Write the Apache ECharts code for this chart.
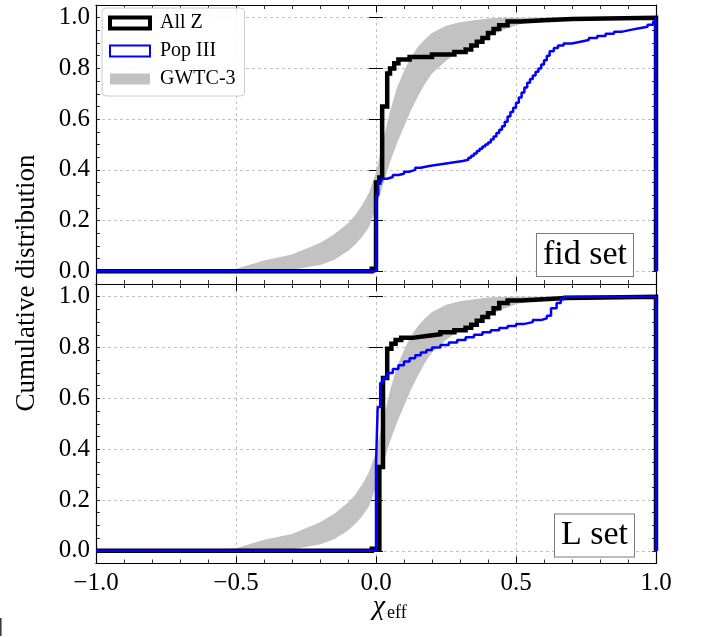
<!DOCTYPE html>
<html>
<head>
<meta charset="utf-8">
<script src="https://cdn.jsdelivr.net/npm/echarts@6/dist/echarts.min.js"></script>
<style>
  html, body { margin: 0; padding: 0; background: #ffffff; }
  #chart { width: 703px; height: 637px; }
</style>
</head>
<body>
<div id="chart"></div>
<script>
// ---- tick values ----
const xTicks = [-1.0, -0.5, 0.0, 0.5, 1.0];
const yTicks = [0.0, 0.2, 0.4, 0.6, 0.8, 1.0];

// ---- GWTC-3 credible band (lower / upper CDF) ----
const gwtcX    = [-0.6, -0.5, -0.4, -0.3, -0.2, -0.15, -0.1, -0.075, -0.05, -0.025, 0.0, 0.025, 0.05, 0.075, 0.1, 0.125, 0.15, 0.175, 0.2, 0.25, 0.3, 0.35, 0.4, 0.45, 0.5, 0.55, 0.6, 0.7];
const gwtcHigh = [0.0, 0.01, 0.043, 0.066, 0.112, 0.145, 0.19, 0.22, 0.26, 0.31, 0.39, 0.515, 0.63, 0.725, 0.79, 0.845, 0.885, 0.915, 0.94, 0.968, 0.982, 0.99, 0.997, 1.0, 1.0, 1.0, 1.0, 1.0];
const gwtcLow  = [0.0, 0.0, 0.0, 0.006, 0.025, 0.045, 0.08, 0.105, 0.135, 0.175, 0.25, 0.34, 0.43, 0.505, 0.57, 0.635, 0.69, 0.74, 0.78, 0.83, 0.87, 0.9, 0.925, 0.95, 0.97, 0.985, 0.995, 1.0];

// ---- fid set: cumulative step curves, [chi_eff, CDF] ----
const fidAllZ = [
  [-1.0, 0.0], [-0.015, 0.01], [0.0, 0.35], [0.012, 0.37], [0.022, 0.65], [0.04, 0.78],
  [0.05, 0.80], [0.065, 0.82], [0.08, 0.835], [0.12, 0.845], [0.2, 0.855], [0.28, 0.865],
  [0.32, 0.875], [0.34, 0.89], [0.36, 0.905], [0.38, 0.92], [0.40, 0.94], [0.42, 0.955],
  [0.44, 0.97], [0.47, 0.985], [0.52, 0.99], [0.6, 0.995], [0.7, 1.0], [1.0, 0.0]
];
const fidPop3 = [
  [-1.0, 0.0], [0.0, 0.30], [0.008, 0.355], [0.02, 0.365], [0.04, 0.372], [0.06, 0.38],
  [0.08, 0.385], [0.10, 0.393], [0.12, 0.40], [0.14, 0.408], [0.16, 0.415], [0.19, 0.42],
  [0.22, 0.425], [0.25, 0.43], [0.28, 0.435], [0.31, 0.44], [0.33, 0.448], [0.34, 0.456],
  [0.35, 0.465], [0.36, 0.474], [0.37, 0.483], [0.38, 0.492], [0.39, 0.50], [0.40, 0.508],
  [0.41, 0.52], [0.42, 0.532], [0.43, 0.545], [0.44, 0.558], [0.45, 0.572], [0.46, 0.59],
  [0.47, 0.61], [0.48, 0.628], [0.49, 0.645], [0.50, 0.665], [0.51, 0.685], [0.52, 0.705],
  [0.53, 0.725], [0.54, 0.743], [0.55, 0.758], [0.56, 0.772], [0.57, 0.787], [0.58, 0.80],
  [0.59, 0.815], [0.60, 0.832], [0.61, 0.85], [0.62, 0.868], [0.635, 0.88], [0.65, 0.89],
  [0.67, 0.898], [0.70, 0.905], [0.73, 0.912], [0.76, 0.92], [0.79, 0.928], [0.82, 0.937],
  [0.85, 0.945], [0.88, 0.952], [0.91, 0.958], [0.94, 0.964], [0.97, 0.972], [0.99, 0.985],
  [0.998, 1.0], [1.0, 0.0]
];

// ---- L set ----
const lAllZ = [
  [-1.0, 0.0], [-0.015, 0.008], [0.012, 0.33], [0.025, 0.68], [0.04, 0.795], [0.055, 0.815],
  [0.07, 0.83], [0.09, 0.838], [0.13, 0.845], [0.18, 0.852], [0.23, 0.86], [0.28, 0.868],
  [0.32, 0.878], [0.34, 0.89], [0.36, 0.905], [0.38, 0.92], [0.40, 0.935], [0.42, 0.955],
  [0.44, 0.975], [0.47, 0.985], [0.52, 0.99], [0.6, 0.995], [0.68, 1.0], [1.0, 0.0]
];
const lPop3 = [
  [-1.0, 0.0], [0.0, 0.336], [0.006, 0.566], [0.015, 0.66], [0.025, 0.68], [0.04, 0.70],
  [0.06, 0.715], [0.08, 0.73], [0.10, 0.745], [0.12, 0.758], [0.14, 0.77], [0.16, 0.78],
  [0.18, 0.79], [0.20, 0.80], [0.23, 0.81], [0.26, 0.82], [0.29, 0.83], [0.32, 0.84],
  [0.35, 0.85], [0.38, 0.86], [0.41, 0.868], [0.44, 0.877], [0.47, 0.885], [0.50, 0.893],
  [0.53, 0.90], [0.56, 0.908], [0.59, 0.915], [0.61, 0.925], [0.625, 0.955], [0.645, 0.975],
  [0.66, 0.99], [0.67, 1.0], [1.0, 0.0]
];

const panelNames = ['fid set', 'L set'];
const seriesNames = ['All Z', 'Pop III', 'GWTC-3'];

// ---- layout ----
const FONT = 'Liberation Serif';
const plotLeft = 96, plotWidth = 560;
const grids = [
  { left: plotLeft, top: 5, width: plotWidth, height: 279 },
  { left: plotLeft, top: 284, width: plotWidth, height: 279.5 }
];
const Y_MIN = -0.05, Y_MAX = 1.05;
const frameStyle = { color: '#000', width: 1.2 };
const gridLineStyle = { color: '#b3b3b3', width: 0.8, type: [3, 3] };

function fmtX(v) {
  return (v < 0 ? '\u2212' : '') + Math.abs(v).toFixed(1);
}

const xAxes = [], yAxes = [];
grids.forEach((g, gi) => {
  const isBottom = gi === grids.length - 1;
  ['bottom', 'top'].forEach(pos => {
    xAxes.push({
      type: 'value', gridIndex: gi, position: pos, min: -1, max: 1, interval: 0.5,
      axisLine: { show: true, onZero: false, lineStyle: frameStyle },
      axisTick: { show: true, inside: true, length: 7, lineStyle: { color: '#000', width: 1 } },
      minorTick: { show: true, splitNumber: 5, length: 4, lineStyle: { color: '#000', width: 0.8 } },
      splitLine: { show: pos === 'bottom', lineStyle: gridLineStyle },
      axisLabel: {
        show: pos === 'bottom' && isBottom, margin: 7, formatter: fmtX,
        fontFamily: FONT, fontSize: 25, color: '#000'
      }
    });
  });
  ['left', 'right'].forEach(pos => {
    // minor ticks every 0.05, frame line and tick labels
    yAxes.push({
      type: 'value', gridIndex: gi, position: pos, min: Y_MIN, max: Y_MAX, interval: 0.05,
      axisLine: { show: true, onZero: false, lineStyle: frameStyle },
      axisTick: { show: true, inside: true, length: 4, lineStyle: { color: '#000', width: 0.8 } },
      splitLine: { show: false },
      axisLabel: {
        show: pos === 'left', customValues: yTicks, margin: 6,
        formatter: v => v.toFixed(1), fontFamily: FONT, fontSize: 25, color: '#000'
      }
    });
    // major ticks and dashed grid
    yAxes.push({
      type: 'value', gridIndex: gi, position: pos, min: Y_MIN, max: Y_MAX,
      axisLine: { show: false },
      axisTick: { show: true, inside: true, length: 7, customValues: yTicks, lineStyle: { color: '#000', width: 1 } },
      splitLine: { show: pos === 'left', lineStyle: gridLineStyle },
      axisLabel: { show: false }
    });
  });
});

function bandRenderer(params, api) {
  if (params.dataIndex !== 0) return null;
  const pts = [];
  for (let i = 0; i < gwtcX.length; i++) pts.push(api.coord([gwtcX[i], gwtcHigh[i]]));
  for (let i = gwtcX.length - 1; i >= 0; i--) pts.push(api.coord([gwtcX[i], gwtcLow[i]]));
  return { type: 'polygon', shape: { points: pts }, style: { fill: '#c2c2c2' } };
}

const panelCurves = [[fidAllZ, fidPop3], [lAllZ, lPop3]];
const series = [];
panelCurves.forEach((curves, gi) => {
  const xi = gi * 2, yi = gi * 4;
  series.push({
    name: seriesNames[2], type: 'custom', xAxisIndex: xi, yAxisIndex: yi, z: 1,
    renderItem: bandRenderer,
    data: gwtcX.map((x, i) => [x, gwtcLow[i], gwtcHigh[i]]),
    encode: { x: 0, y: [1, 2] },
    itemStyle: { color: '#c2c2c2' }
  });
  series.push({
    name: seriesNames[0], type: 'line', step: 'end', xAxisIndex: xi, yAxisIndex: yi, z: 3,
    data: curves[0], showSymbol: false, symbol: 'none',
    lineStyle: { color: '#000', width: 4.5, join: 'miter' }, itemStyle: { color: '#000' }
  });
  series.push({
    name: seriesNames[1], type: 'line', step: 'end', xAxisIndex: xi, yAxisIndex: yi, z: 4,
    data: curves[1], showSymbol: false, symbol: 'none',
    lineStyle: { color: '#0000ff', width: 2.5 }, itemStyle: { color: '#0000ff' }
  });
});

const panelBoxCenters = [[585, 255], [594.5, 535.5]];
const graphics = panelNames.map((t, i) => ({
  type: 'text', x: panelBoxCenters[i][0], y: panelBoxCenters[i][1], z: 100,
  style: {
    text: t, font: '34px "' + FONT + '"', fill: '#000', align: 'center', verticalAlign: 'middle',
    backgroundColor: '#fff', borderColor: '#7a7a7a', borderWidth: 1, padding: [4, 6, 4, 6]
  }
}));
graphics.push({
  type: 'text', x: 27, y: 283, rotation: Math.PI / 2,
  style: { text: 'Cumulative distribution', font: '27px "' + FONT + '"', fill: '#000', align: 'center', verticalAlign: 'middle' }
});
graphics.push({
  type: 'text', x: 379, y: 607,
  style: { text: '\u03c7', font: 'italic 28px "' + FONT + '"', fill: '#000', align: 'center', verticalAlign: 'middle' }
});
graphics.push({
  type: 'text', x: 387, y: 613,
  style: { text: 'eff', font: '18px "' + FONT + '"', fill: '#000', align: 'left', verticalAlign: 'middle' }
});
graphics.push({
  type: 'line', shape: { x1: 0.8, y1: 618, x2: 0.8, y2: 636 }, style: { stroke: '#333', lineWidth: 1.5 }
});

const option = {
  animation: false,
  backgroundColor: '#fff',
  grid: grids,
  xAxis: xAxes,
  yAxis: yAxes,
  legend: {
    orient: 'vertical', left: 102, top: 8,
    itemWidth: 40, itemHeight: 11, itemGap: 8,
    padding: [5, 9, 7, 6],
    backgroundColor: 'rgba(255,255,255,0.85)', borderColor: '#cccccc', borderWidth: 1, borderRadius: 4,
    textStyle: { fontFamily: FONT, fontSize: 20, color: '#000', padding: [0, 0, 0, 5] },
    selectedMode: false,
    data: [
      { name: seriesNames[0], icon: 'rect', itemStyle: { color: '#fff', borderColor: '#000', borderWidth: 4 } },
      { name: seriesNames[1], icon: 'rect', itemStyle: { color: '#fff', borderColor: '#0000ff', borderWidth: 2 } },
      { name: seriesNames[2], icon: 'rect', itemStyle: { color: '#c2c2c2', borderWidth: 0 } }
    ]
  },
  graphic: graphics,
  series: series
};

const chart = echarts.init(document.getElementById('chart'), null, { renderer: 'canvas' });
chart.setOption(option);
</script>
</body>
</html>
